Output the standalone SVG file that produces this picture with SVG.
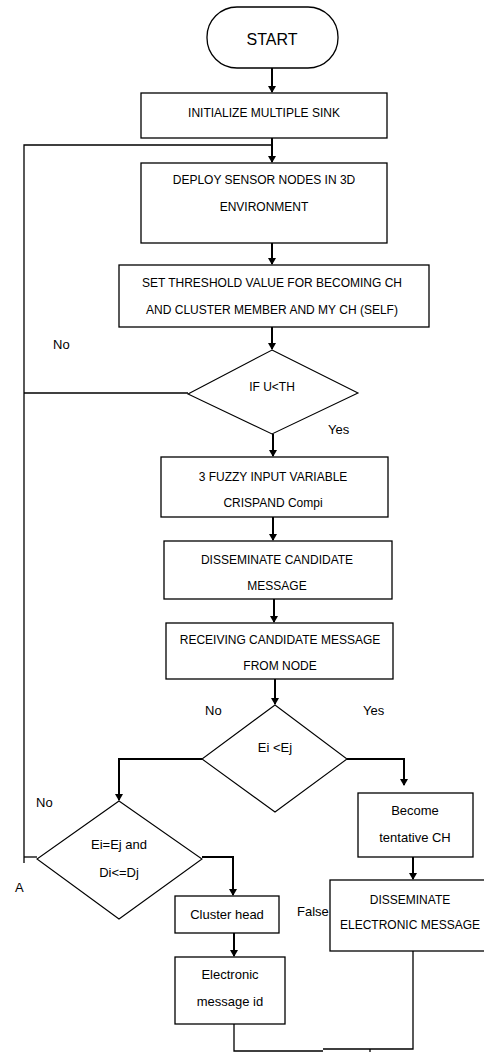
<svg xmlns="http://www.w3.org/2000/svg" width="484" height="1052" viewBox="0 0 484 1052">
<style>
.box{fill:#fff;stroke:#000;stroke-width:1.3}
.dia{fill:#fff;stroke:#000;stroke-width:1.1}
.t{font-family:"Liberation Sans Narrow","Liberation Sans",Arial,sans-serif;font-size:12px;fill:#000;text-anchor:middle}
.m{font-size:13px}
.l{font-family:"Liberation Sans Narrow","Liberation Sans",Arial,sans-serif;font-size:13px;fill:#000}
.ln{fill:none;stroke:#000;stroke-width:1.3}
.ar{fill:none;stroke:#000;stroke-width:2;marker-end:url(#ah)}
</style>
<defs>
<marker id="ah" markerWidth="8" markerHeight="8" refX="6" refY="4" orient="auto" markerUnits="userSpaceOnUse">
<path d="M0,0 L7,4 L0,8 Z" fill="#000"/>
</marker>
</defs>
<rect width="484" height="1052" fill="#fff"/>
<g id="connectors">
<path class="ar" d="M272,68 V92"/>
<path class="ar" d="M272,138 V162"/>
<path class="ln" d="M272,145 H24 V863"/>
<path class="ar" d="M272,243 V264"/>
<path class="ar" d="M272,327 V349"/>
<path class="ln" d="M188,393 H24"/>
<path class="ar" d="M273,434 V456"/>
<path class="ar" d="M273,517 V540"/>
<path class="ar" d="M274,599 V622"/>
<path class="ar" d="M275,679 V704"/>
<path class="ar" d="M202,759 H119 V800"/>
<path class="ar" d="M347,759 H404 V785"/>
<path class="ln" d="M24,857 H37"/>
<path class="ar" d="M202,857 H233 V895"/>
<path class="ar" d="M234,933 V956"/>
<path class="ar" d="M413,857 V879"/>
<path class="ln" d="M234,1024 V1051 H323"/>
<path class="ln" d="M413,951 V1049 H323"/>
<path class="ln" d="M370,1049 V1052"/>
</g>
<g id="start">
<rect class="box" x="207" y="7" width="131" height="61" rx="30" ry="30"/>
<text class="t" x="272" y="45" style="font-size:16px">START</text>
</g>
<g id="init">
<rect class="box" x="141" y="93" width="246" height="45"/>
<text class="t" x="264" y="117">INITIALIZE MULTIPLE SINK</text>
</g>
<g id="deploy">
<rect class="box" x="141" y="163" width="246" height="80"/>
<text class="t" x="264" y="184">DEPLOY SENSOR NODES IN 3D</text>
<text class="t" x="264" y="211">ENVIRONMENT</text>
</g>
<g id="threshold">
<rect class="box" x="119" y="265" width="310" height="62"/>
<text class="t" x="272" y="287">SET THRESHOLD VALUE FOR BECOMING CH</text>
<text class="t" x="272" y="314">AND CLUSTER MEMBER AND MY CH (SELF)</text>
</g>
<g id="ifu">
<polygon class="dia" points="272,350 358,393 272,434 188,394"/>
<text class="t" x="272" y="391">IF U&lt;TH</text>
</g>
<g id="fuzzy">
<rect class="box" x="161" y="457" width="227" height="60"/>
<text class="t" x="273" y="481">3 FUZZY INPUT VARIABLE</text>
<text class="t" x="273" y="507">CRISPAND Compi</text>
</g>
<g id="dissem">
<rect class="box" x="164" y="541" width="228" height="58"/>
<text class="t" x="277" y="564">DISSEMINATE CANDIDATE</text>
<text class="t" x="277" y="590">MESSAGE</text>
</g>
<g id="receiving">
<rect class="box" x="166" y="623" width="227" height="56"/>
<text class="t" x="280" y="644">RECEIVING CANDIDATE MESSAGE</text>
<text class="t" x="280" y="670">FROM NODE</text>
</g>
<g id="eiej">
<polygon class="dia" points="275,705 347,759 275,812 202,759"/>
<text class="t m" x="275" y="752">Ei &lt;Ej</text>
</g>
<g id="become">
<rect class="box" x="358" y="793" width="115" height="64"/>
<text class="t m" x="415" y="815">Become</text>
<text class="t m" x="415" y="842">tentative CH</text>
</g>
<g id="eqdi">
<polygon class="dia" points="119,801 202,859 119,919 37,859"/>
<text class="t m" x="119" y="849">Ei=Ej and</text>
<text class="t m" x="119" y="877">Di&lt;=Dj</text>
</g>
<g id="clusterhead">
<rect class="box" x="175" y="896" width="104" height="37"/>
<text class="t m" x="227" y="919">Cluster head</text>
</g>
<g id="electronic">
<rect class="box" x="175" y="957" width="110" height="67"/>
<text class="t m" x="230" y="979">Electronic</text>
<text class="t m" x="230" y="1006">message id</text>
</g>
<g id="dissemElec">
<rect class="box" x="330" y="880" width="160" height="71"/>
<text class="t" x="410" y="904">DISSEMINATE</text>
<text class="t" x="410" y="929">ELECTRONIC MESSAGE</text>
</g>
<g id="labels">
<text class="l" x="53" y="349">No</text>
<text class="l" x="328" y="434">Yes</text>
<text class="l" x="205" y="715">No</text>
<text class="l" x="363" y="715">Yes</text>
<text class="l" x="36" y="807">No</text>
<text class="l" x="15" y="892">A</text>
<text class="l" x="297" y="916">False</text>
</g>
</svg>
